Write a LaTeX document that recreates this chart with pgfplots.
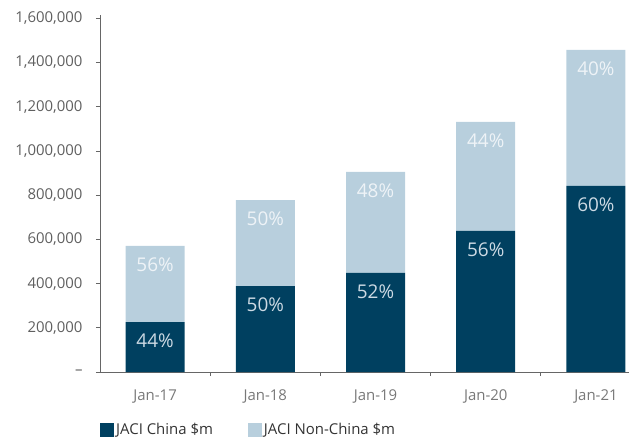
\documentclass[border=0pt]{standalone}
\usepackage{fontspec}
\setmainfont{Open Sans}
\usepackage{pgfplots}
\usepackage{pgfplotstable}
\pgfplotsset{compat=1.18}
\definecolor{navy}{RGB}{0,64,96}
\definecolor{lblue}{RGB}{184,207,221}
\definecolor{axgray}{RGB}{102,102,102}
\definecolor{txtgray}{RGB}{95,95,95}
\definecolor{xgray}{RGB}{120,120,120}
\definecolor{lbltxt}{RGB}{238,243,247}
\definecolor{dktxt}{RGB}{205,218,228}

% values in $m; ck/nk = same values in thousands (used only to place labels)
\pgfplotstableread{
x china cp ck nonchina np nk
0 226000 44 226 344000 56 344
1 389000 50 389 389000 50 389
2 448000 52 448 457000 48 457
3 638000 56 638 493000 44 493
4 842000 60 842 615000 40 615
}\data

\begin{document}
\begin{tikzpicture}
\begin{axis}[
  at={(0,0)}, anchor=south west,
  scale only axis, width=529bp, height=357bp,
  xmin=-0.5, xmax=4.3, ymin=0, ymax=1615000,
  ybar stacked, bar width=59bp,
  axis x line*=bottom, axis y line*=left,
  axis line style={axgray, line width=0.8bp},
  xtick={0,1,2,3,4},
  xticklabels={Jan-17,Jan-18,Jan-19,Jan-20,Jan-21},
  xtick style={draw=none},
  extra x ticks={0.5,1.5,2.5,3.5},
  extra x tick labels={},
  extra x tick style={xtick style={draw=axgray, line width=0.8bp}},
  ytick={0,200000,400000,600000,800000,1000000,1200000,1400000,1600000},
  yticklabels={{–},{200,000},{400,000},{600,000},{800,000},{1,000,000},{1,200,000},{1,400,000},{1,600,000}},
  scaled y ticks=false,
  tick align=outside, major tick length=4bp,
  ytick style={draw=axgray, line width=0.8bp},
  y tick label style={font=\fontsize{15}{18}\selectfont, text=txtgray, xshift=-10bp},
  x tick label style={font=\fontsize{15}{18}\selectfont, text=xgray, yshift=-10bp},
  point meta=explicit,
  nodes near coords={\pgfmathprintnumber[assume math mode=true]{\pgfplotspointmeta}\%},
  every node near coord/.append style={font=\fontsize{19}{22}\selectfont, anchor=center,
    yshift={(\segh*0.110526-18.5)*1.00375}},
  legend style={at={(0,-0.1625)}, anchor=west, legend columns=2, draw=none, fill=none,
    inner sep=0pt, font=\fontsize{15}{18}\selectfont, text=black!80,
    /tikz/every even column/.append style={column sep=33bp}},
  legend cell align=left,
  legend image code/.code={\fill[#1] (0bp,-7bp) rectangle (14bp,7bp);},
]
\addplot[fill=navy, draw=none, every node near coord/.append style={text=dktxt},
  visualization depends on={\thisrow{ck} \as \segh}]
  table[x=x, y=china, meta=cp] {\data};
\addlegendentry{JACI China \$m}
\addplot[fill=lblue, draw=none, every node near coord/.append style={text=lbltxt},
  visualization depends on={\thisrow{nk} \as \segh}]
  table[x=x, y=nonchina, meta=np] {\data};
\addlegendentry{JACI Non-China \$m}
\end{axis}
\pgfresetboundingbox
\useasboundingbox (-100bp,-65bp) rectangle (529bp,372bp);
\end{tikzpicture}
\end{document}
